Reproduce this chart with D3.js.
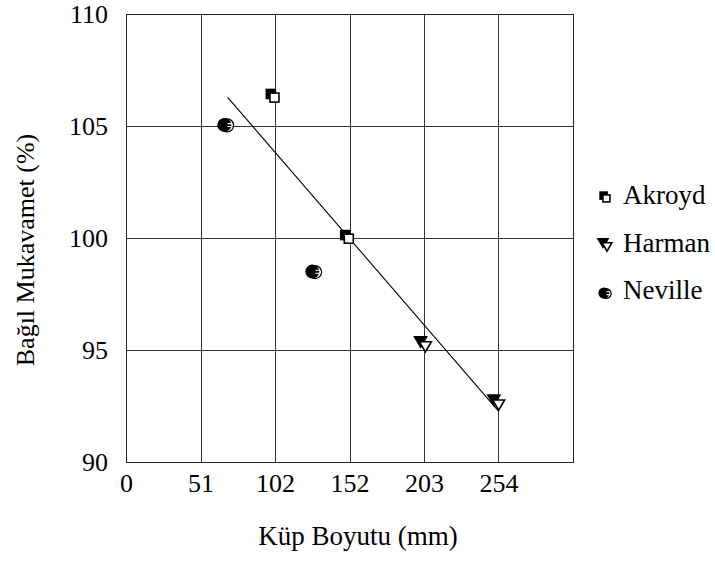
<!DOCTYPE html>
<html>
<head>
<meta charset="utf-8">
<script src="https://cdn.jsdelivr.net/npm/d3@7"></script>
<style>
  html, body { margin: 0; padding: 0; background: #fff; }
  svg text { font-family: "Liberation Serif", "Times New Roman", Tinos, serif !important; fill: #000; }
</style>
</head>
<body>
<svg id="chart" width="715" height="563"></svg>
<script>
// ---- data ----
const seriesNames = ["Akroyd", "Harman", "Neville"];
const akroydX = [100, 150.7];
const akroydY = [106.35, 100.05];
const harmanX = [202.5, 252.5];
const harmanY = [95.25, 92.65];
const nevilleX = [68, 128];
const nevilleY = [105.05, 98.5];
const trendX = [69.3, 254.3];
const trendY = [106.28, 92.25];
const xTickValues = [0, 50.8, 101.6, 152.4, 203.2, 254, 304.8];
const xTickLabels = ["0", "51", "102", "152", "203", "254", ""];
const yTickValues = [90, 95, 100, 105, 110];
const xTitle = "Küp Boyutu (mm)";
const yTitle = "Bağıl Mukavamet (%)";

// ---- layout ----
const svg = d3.select("#chart");
const pLeft = 126, pRight = 573, pTop = 14, pBottom = 462;
const x = d3.scaleLinear().domain([0, 304.8]).range([pLeft, pRight]);
const y = d3.scaleLinear().domain([90, 110]).range([pBottom, pTop]);
const tickFs = 26, titleFs = 27, legFs = 27;

// gridlines
const g = svg.append("g");
g.selectAll("line.vx").data(xTickValues.slice(1, -1)).enter().append("line")
  .attr("x1", d => Math.round(x(d)) + 0.5).attr("x2", d => Math.round(x(d)) + 0.5)
  .attr("y1", pTop).attr("y2", pBottom).attr("stroke", "#333").attr("stroke-width", 1);
g.selectAll("line.hy").data(yTickValues.slice(1, -1)).enter().append("line")
  .attr("y1", d => Math.round(y(d)) + 0.5).attr("y2", d => Math.round(y(d)) + 0.5)
  .attr("x1", pLeft).attr("x2", pRight).attr("stroke", "#333").attr("stroke-width", 1);
// border
g.append("rect").attr("x", pLeft + 0.5).attr("y", pTop + 0.5)
  .attr("width", pRight - pLeft).attr("height", pBottom - pTop)
  .attr("fill", "none").attr("stroke", "#222").attr("stroke-width", 1);

// axes (labels only)
const xAxis = d3.axisBottom(x).tickValues(xTickValues).tickFormat((d, i) => xTickLabels[i]).tickSize(0).tickPadding(12);
const xa = svg.append("g").attr("transform", `translate(0,${pBottom})`).call(xAxis)
  .attr("font-family", null).attr("font-size", null);
xa.select(".domain").remove();
xa.selectAll("text").style("font-size", tickFs + "px");

const yAxis = d3.axisLeft(y).tickValues(yTickValues).tickFormat(d3.format("d")).tickSize(0).tickPadding(18);
const ya = svg.append("g").attr("transform", `translate(${pLeft},0)`).call(yAxis)
  .attr("font-family", null).attr("font-size", null);
ya.select(".domain").remove();
ya.selectAll("text").style("font-size", tickFs + "px");

// titles
svg.append("text").attr("x", 358).attr("y", 545).attr("text-anchor", "middle")
  .style("font-size", titleFs + "px").text(xTitle);
svg.append("text").attr("transform", "translate(34,250) rotate(-90)").attr("text-anchor", "middle")
  .style("font-size", (titleFs - 1) + "px").text(yTitle);

// trendline
const line = d3.line().x(d => x(d[0])).y(d => y(d[1]));
svg.append("path").datum(d3.zip(trendX, trendY)).attr("d", line)
  .attr("fill", "none").attr("stroke", "#000").attr("stroke-width", 1.1);

// marker drawing (filled shape + offset open shape)
function drawMarker(sel, type, cx, cy, s) {
  const off = s * 0.4;
  if (type === "circle") {
    sel.append("circle").attr("cx", cx - off / 4).attr("cy", cy).attr("r", s / 2).attr("fill", "#000");
    sel.append("circle").attr("cx", cx + off / 4).attr("cy", cy + 0.5).attr("r", s / 2 - 0.5)
      .attr("fill", "none").attr("stroke", "#000").attr("stroke-width", 1.2);
    const bx = cx + off / 4 + s * 0.02;
    sel.append("path").attr("d", `M${bx},${cy - 1.3}h${s * 0.3}M${bx},${cy + 1.6}h${s * 0.3}`)
      .attr("stroke", "#fff").attr("stroke-width", 1.1);
    return;
  }
  const shapes = [[cx - off / 2, cy - off / 2, "#000"], [cx + off / 2, cy + off / 2, "#fff"]];
  shapes.forEach(([px, py, fill]) => {
    if (type === "square") {
      sel.append("rect").attr("x", px - s / 2).attr("y", py - s / 2).attr("width", s).attr("height", s)
        .attr("fill", fill).attr("stroke", "#000").attr("stroke-width", 1.6);
    } else {
      const h = s * 0.85;
      sel.append("path").attr("d", `M${px - s / 2},${py - h / 2}L${px + s / 2},${py - h / 2}L${px},${py + h / 2}Z`)
        .attr("fill", fill).attr("stroke", "#000").attr("stroke-width", 1.6);
    }
  });
}

const series = [
  { name: seriesNames[0], xs: akroydX, ys: akroydY, type: "square" },
  { name: seriesNames[1], xs: harmanX, ys: harmanY, type: "triangle" },
  { name: seriesNames[2], xs: nevilleX, ys: nevilleY, type: "circle" }
];
const mg = svg.append("g");
series.forEach(s => {
  s.xs.forEach((xv, i) => {
    const size = s.type === "circle" ? 14 : (s.type === "triangle" ? 12 : 9);
    drawMarker(mg, s.type, x(xv), y(s.ys[i]), size);
  });
});

// legend
const legMarkY = [197, 245, 293];
const legTextY = [204, 252, 299];
series.forEach((s, i) => {
  const lg = svg.append("g");
  drawMarker(lg, s.type, 605, legMarkY[i], s.type === "square" ? 7 : (s.type === "circle" ? 11 : 10));
  lg.append("text").attr("x", 623).attr("y", legTextY[i]).style("font-size", legFs + "px").text(s.name);
});
</script>
</body>
</html>
